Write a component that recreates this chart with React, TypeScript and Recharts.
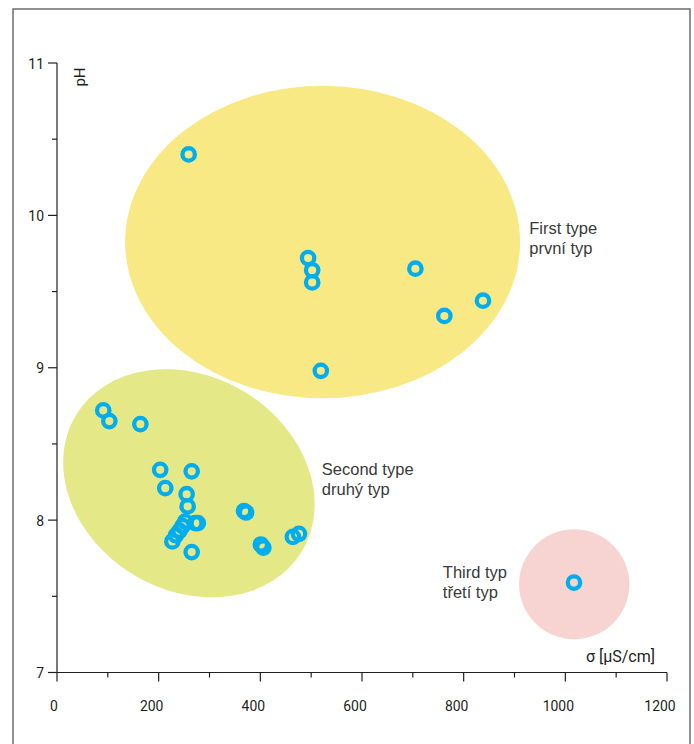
import {
  Customized,
  ReferenceArea,
  ReferenceDot,
  Scatter,
  ScatterChart,
  XAxis,
  YAxis,
} from "recharts";

// conductivity (µS/cm) vs pH
const firstType = [
  { sigma: 259, ph: 10.4 },
  { sigma: 494, ph: 9.72 },
  { sigma: 502, ph: 9.64 },
  { sigma: 502, ph: 9.56 },
  { sigma: 705, ph: 9.65 },
  { sigma: 838, ph: 9.44 },
  { sigma: 762, ph: 9.34 },
  { sigma: 519, ph: 8.98 },
];

const secondType = [
  { sigma: 91, ph: 8.72 },
  { sigma: 103, ph: 8.65 },
  { sigma: 164, ph: 8.63 },
  { sigma: 203, ph: 8.33 },
  { sigma: 265, ph: 8.32 },
  { sigma: 213, ph: 8.21 },
  { sigma: 255, ph: 8.17 },
  { sigma: 257, ph: 8.09 },
  { sigma: 252, ph: 7.99 },
  { sigma: 247, ph: 7.96 },
  { sigma: 241, ph: 7.93 },
  { sigma: 234, ph: 7.9 },
  { sigma: 227, ph: 7.86 },
  { sigma: 272, ph: 7.98 },
  { sigma: 277, ph: 7.98 },
  { sigma: 265, ph: 7.79 },
  { sigma: 368, ph: 8.06 },
  { sigma: 372, ph: 8.05 },
  { sigma: 401, ph: 7.84 },
  { sigma: 406, ph: 7.82 },
  { sigma: 464, ph: 7.89 },
  { sigma: 476, ph: 7.91 },
];

const thirdType = [{ sigma: 1017, ph: 7.59 }];

// extents of the shaded groups (data units)
const zoneFirst = { x1: 134, x2: 911, y1: 8.8, y2: 10.85 };
const zoneSecond = { x1: 0, x2: 519, y1: 7.54, y2: 8.944 };
const zoneThird = { x1: 909, x2: 1126, y1: 7.218, y2: 7.94 };

const typeLabels = [
  { sigma: 929, ph: 9.876, lines: ["First type", "první typ"] },
  { sigma: 521, ph: 8.295, lines: ["Second type", "druhý typ"] },
  { sigma: 759, ph: 7.623, lines: ["Third typ", "třetí typ"] },
];

const sigmaTicks = [0, 100, 200, 300, 400, 500, 600, 700, 800, 900, 1000, 1100, 1200];
const phTicks = [7, 7.5, 8, 8.5, 9, 9.5, 10, 10.5, 11];

const INK = "#231f20";
const AXIS_FONT = "Roboto, 'Liberation Sans', sans-serif";
const TEXT_FONT = "'Liberation Sans', Arial, sans-serif";
const SQUEEZE = 0.9; // the original uses a slightly condensed face

const Ring = (props: any) => (
  <circle
    cx={props.cx}
    cy={props.cy}
    r={6.2}
    fill="none"
    stroke="#00aeef"
    strokeWidth={4.3}
  />
);

const ellipseShape = (fill: string, angle = 0) => (props: any) => {
  const cx = props.x + props.width / 2;
  const cy = props.y + props.height / 2;
  return (
    <ellipse
      cx={cx}
      cy={cy}
      rx={Math.abs(props.width) / 2}
      ry={Math.abs(props.height) / 2}
      fill={fill}
      transform={angle ? `rotate(${angle} ${cx} ${cy})` : undefined}
    />
  );
};

const CondensedText = ({ x, y, anchor, children }: any) => (
  <text
    transform={`translate(${x} ${y}) scale(${SQUEEZE} 1)`}
    textAnchor={anchor}
    fontSize={15.5}
    fontFamily={AXIS_FONT}
    fill={INK}
  >
    {children}
  </text>
);

const XTick = ({ x, y, payload }: any) => {
  const v = payload.value;
  const major = v % 200 === 0;
  return (
    <g>
      <line x1={x} x2={x} y1={y} y2={y + (major ? 9 : 5)} stroke={INK} strokeWidth={1.2} />
      {major && (
        <CondensedText x={x + (v === 0 ? -3 : -7)} y={y + 38} anchor="middle">
          {v}
        </CondensedText>
      )}
    </g>
  );
};

const YTick = ({ x, y, payload }: any) => {
  const v = payload.value;
  const major = Number.isInteger(v);
  return (
    <g>
      <line x1={x - (major ? 9 : 5)} x2={x} y1={y} y2={y} stroke={INK} strokeWidth={1.2} />
      {major && (
        <CondensedText x={x - 13} y={y + 5.5} anchor="end">
          {v}
        </CondensedText>
      )}
    </g>
  );
};

const typeLabel = (lines: string[]) => (props: any) => (
  <text x={props.cx} y={props.cy} fontSize={16.5} fontFamily={TEXT_FONT} fill="#3a3a3a">
    {lines.map((line, i) => (
      <tspan key={i} x={props.cx} dy={i === 0 ? 0 : 20}>
        {line}
      </tspan>
    ))}
  </text>
);

const Decorations = () => (
  <g>
    <rect x={13} y={9} width={677} height={800} fill="none" stroke="#6d6e71" strokeWidth={1.5} />
    <text
      transform="translate(85 77) rotate(-90)"
      textAnchor="middle"
      fontSize={15}
      fontFamily={AXIS_FONT}
      fill={INK}
    >
      pH
    </text>
    <text
      x={655}
      y={662}
      textAnchor="end"
      fontSize={16}
      fontFamily={AXIS_FONT}
      fill={INK}
    >
      σ [µS/cm]
    </text>
  </g>
);

export default function App() {
  return (
    <div style={{ position: "fixed", left: 0, top: 0, width: 694, height: 744, background: "#fff" }}>
      <ScatterChart width={694} height={744} margin={{ top: 63, right: 27, bottom: 0, left: 0 }}>
        <XAxis
          type="number"
          dataKey="sigma"
          domain={[0, 1200]}
          ticks={sigmaTicks}
          interval={0}
          height={71.5}
          tickSize={0}
          tickMargin={0}
          tickLine={false}
          tick={<XTick />}
          axisLine={{ stroke: INK, strokeWidth: 1.2 }}
        />
        <YAxis
          type="number"
          dataKey="ph"
          domain={[7, 11]}
          ticks={phTicks}
          interval={0}
          width={57}
          tickSize={0}
          tickMargin={0}
          tickLine={false}
          tick={<YTick />}
          axisLine={{ stroke: INK, strokeWidth: 1.2 }}
        />
        <ReferenceArea {...zoneFirst} shape={ellipseShape("#f8e985")} />
        <ReferenceArea {...zoneSecond} shape={ellipseShape("#e4e887", 31)} />
        <ReferenceArea {...zoneThird} shape={ellipseShape("#f7d4d2")} />
        <Scatter data={firstType} shape={<Ring />} isAnimationActive={false} />
        <Scatter data={secondType} shape={<Ring />} isAnimationActive={false} />
        <Scatter data={thirdType} shape={<Ring />} isAnimationActive={false} />
        {typeLabels.map((l) => (
          <ReferenceDot key={l.lines[0]} x={l.sigma} y={l.ph} r={0} shape={typeLabel(l.lines)} />
        ))}
        <Customized component={Decorations} />
      </ScatterChart>
    </div>
  );
}
